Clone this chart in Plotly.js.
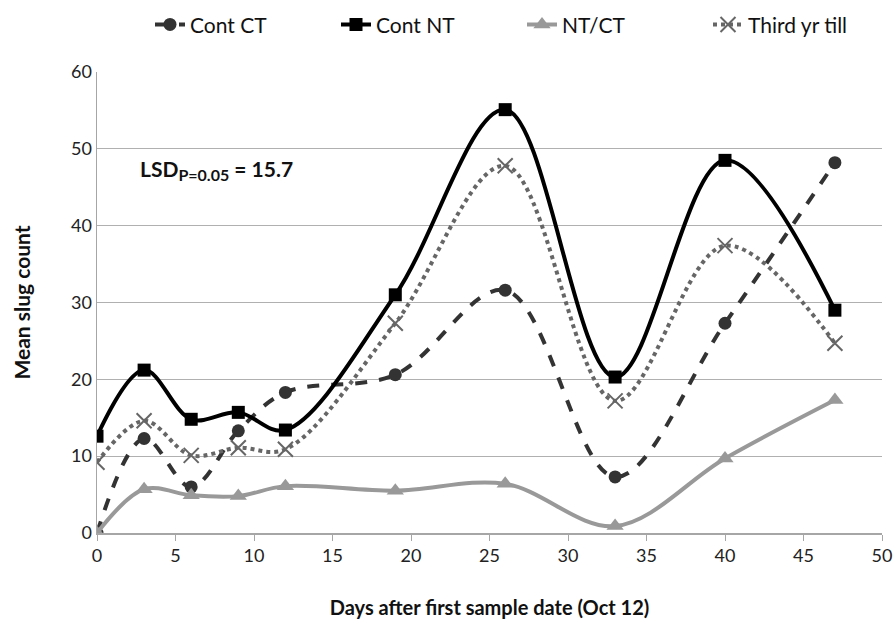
<!DOCTYPE html>
<html>
<head>
<meta charset="utf-8">
<script src="https://cdn.plot.ly/plotly-3.0.1.min.js"></script>
<style>html,body{margin:0;padding:0;background:#fff;}#chart{width:894px;height:620px;}</style>
</head>
<body>
<div id="chart"></div>
<script>
const days = [0, 3, 6, 9, 12, 19, 26, 33, 40, 47];
const contCT = [0, 12.3, 6.0, 13.3, 18.3, 20.6, 31.6, 7.3, 27.3, 48.2];
const contNT = [12.6, 21.2, 14.8, 15.7, 13.4, 31.0, 55.1, 20.3, 48.5, 29.0];
const ntCT = [0, 5.7, 4.9, 4.8, 6.1, 5.5, 6.4, 0.9, 9.7, 17.3];
const thirdYr = [9.2, 14.6, 10.1, 11.1, 10.9, 27.3, 47.8, 17.2, 37.4, 24.7];
const seriesNames = ['Cont CT', 'Cont NT', 'NT/CT', 'Third yr till'];
const xTicks = [0, 5, 10, 15, 20, 25, 30, 35, 40, 45, 50];
const yTicks = [0, 10, 20, 30, 40, 50, 60];

const FONT = 'Lato, "Open Sans", sans-serif';

const traces = [
  {x: days, y: contCT, name: seriesNames[0], mode: 'lines+markers',
   line: {color: '#333333', width: 4, dash: 'dash', shape: 'spline', smoothing: 1},
   marker: {symbol: 'circle', size: 13, color: '#333333'}},
  {x: days, y: contNT, name: seriesNames[1], mode: 'lines+markers',
   line: {color: '#000000', width: 4, shape: 'spline', smoothing: 1},
   marker: {symbol: 'square', size: 13, color: '#000000'}},
  {x: days, y: ntCT, name: seriesNames[2], mode: 'lines+markers',
   line: {color: '#999999', width: 4, shape: 'spline', smoothing: 1},
   marker: {symbol: 'triangle-up', size: 15, color: '#999999'}},
  {x: days, y: thirdYr, name: seriesNames[3], mode: 'lines+markers',
   line: {color: '#666666', width: 4, dash: 'dot', shape: 'spline', smoothing: 1},
   marker: {symbol: 'x-thin-open', size: 15, color: '#666666', line: {width: 2, color: '#666666'}}}
];

const layout = {
  width: 894, height: 620,
  margin: {l: 97, r: 12, t: 72, b: 87},
  paper_bgcolor: '#ffffff', plot_bgcolor: '#ffffff',
  font: {family: FONT, size: 16, color: '#222222'},
  showlegend: true,
  legend: {orientation: 'h', x: 0.068, xanchor: 'left', y: 0.96, yanchor: 'middle', yref: 'container',
           font: {family: FONT, size: 21, color: '#111111'},
           entrywidth: 141, entrywidthmode: 'pixels', tracegroupgap: 0},
  xaxis: {range: [0, 50], tickvals: xTicks, ticktext: xTicks.map(String),
          showgrid: false, zeroline: false, showline: true, linecolor: '#a6a6a6', linewidth: 1.5,
          ticks: 'outside', ticklen: 6, tickcolor: '#a6a6a6',
          tickfont: {family: FONT, size: 18, color: '#222222'},
          title: {text: '<b>Days after first sample date (Oct 12)</b>', standoff: 36,
                  font: {family: FONT, size: 20, color: '#111111'}}},
  yaxis: {range: [0, 60], tickvals: yTicks, ticktext: yTicks.map(String),
          showgrid: true, gridcolor: '#b0b0b0', gridwidth: 1.2, zeroline: false,
          showline: true, linecolor: '#a6a6a6', linewidth: 1.5, ticks: '',
          tickfont: {family: FONT, size: 18, color: '#222222'},
          title: {text: '<b>Mean slug count</b>', standoff: 34,
                  font: {family: FONT, size: 21, color: '#111111'}}},
  annotations: [{xref: 'x', yref: 'y', x: 2.6, y: 47.2, xanchor: 'left', yanchor: 'middle',
                 showarrow: false, text: '<b>LSD<sub><span style="font-size:16px">P=0.05</span></sub> = 15.7</b>',
                 font: {family: FONT, size: 21, color: '#111111'}}]
};

Plotly.newPlot('chart', traces, layout, {displayModeBar: false, staticPlot: true});
</script>
</body>
</html>
